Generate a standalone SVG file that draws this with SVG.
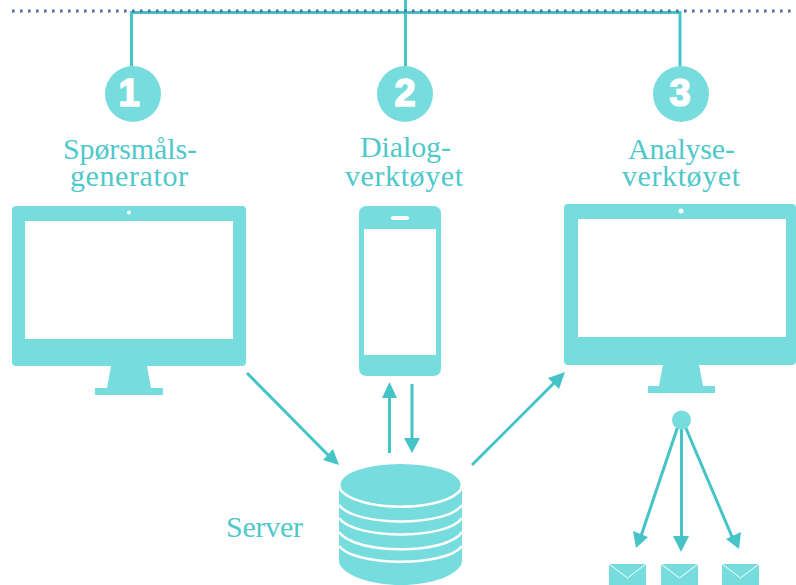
<svg xmlns="http://www.w3.org/2000/svg" width="796" height="585" viewBox="0 0 796 585">
<style>
.f{fill:#76dcdd}
.l{fill:#4fc8ca;font-family:"Liberation Serif",serif;font-size:30px;text-anchor:middle}
.n{fill:#fff;stroke:#fff;stroke-width:1.6;font-family:"Liberation Sans",sans-serif;font-weight:bold;font-size:38px;text-anchor:middle}
.c{fill:none;stroke:#45c4c8;stroke-width:3}
.a{fill:#45c4c8}
.e{fill:none;stroke:#fff;stroke-width:1}
.b{fill:none;stroke:#fff;stroke-width:2.5}
</style>
<rect width="796" height="585" fill="#fff"/>
<g id="connectors">
<path class="c" d="M131.500 66V12.500H680V66M405.500 0V66"/>
<line x1="12" y1="11" x2="796" y2="11" stroke="#4f6fa8" stroke-width="3" stroke-dasharray="2.6 5.4"/>
<path class="c" d="M247 373L330 457"/><path class="a" d="M339 465L323 460L333 449Z"/>
<path class="c" d="M389.500 453V394"/><path class="a" d="M389.500 382L397 398H382Z"/>
<path class="c" d="M412 384V440"/><path class="a" d="M412 453L404 438H420Z"/>
<path class="c" d="M472 465L556 381"/><path class="a" d="M565 372L559 389L548 378Z"/>
<path class="c" d="M678 426L640 539"/><path class="a" d="M636 548L633 531L648 537Z"/>
<path class="c" d="M681.500 426V538"/><path class="a" d="M681 552L673 536H689Z"/>
<path class="c" d="M685 426L733 539"/><path class="a" d="M739 549L726 539L741 532Z"/>
</g>
<g id="node1">
<circle class="f" cx="133" cy="94" r="28"/><text class="n" x="129" y="105.500">1</text>
<text class="l" x="130" y="159" textLength="134">Spørsmåls-</text><text class="l" x="129" y="186" textLength="118">generator</text>
<path class="f" fill-rule="evenodd" d="M16 206H242Q246 206 246 210V362Q246 366 242 366H147L151 388H163V395H95V388H107L111 366H16Q12 366 12 362V210Q12 206 16 206ZM25 221V339H233V221Z"/>
<circle cx="129" cy="212.500" r="2" fill="#fff"/>
</g>
<g id="node2">
<circle class="f" cx="405" cy="94" r="28"/><text class="n" x="405" y="105.500">2</text>
<text class="l" x="405.500" y="157" textLength="91">Dialog-</text><text class="l" x="404" y="186" textLength="118">verktøyet</text>
<path class="f" fill-rule="evenodd" d="M367 206H433Q441 206 441 214V368Q441 376 433 376H367Q359 376 359 368V214Q359 206 367 206ZM364 229V355H436V229Z"/>
<rect x="391" y="216" width="18" height="4" rx="2" fill="#fff"/>
</g>
<g id="node3">
<circle class="f" cx="681" cy="94" r="28"/><text class="n" x="680" y="105.500">3</text>
<text class="l" x="681.500" y="159" textLength="107">Analyse-</text><text class="l" x="681" y="186" textLength="118">verktøyet</text>
<path class="f" fill-rule="evenodd" d="M568 204H792Q796 204 796 208V361Q796 365 792 365H699L703 386H715V393H648V386H659L663 365H568Q564 365 564 361V208Q564 204 568 204ZM578 219V337H786V219Z"/>
<circle cx="681" cy="211" r="2.500" fill="#fff"/>
</g>
<g id="server">
<text class="l" x="264.500" y="537" textLength="77">Server</text>
<path class="f" d="M339 488V562C342 575 370 585 401 585C432 585 459 575 462 562V488Z"/>
<path class="b" d="M339 488C355 513 447 513 462 488M339 505C355 527 447 527 462 505M339 518C355 540 447 540 462 518M339 532C355 555 447 555 462 532M339 546C355 567 447 567 462 546"/>
<ellipse class="f" cx="400.500" cy="484.500" rx="60" ry="20.500"/>
</g>
<g id="hub"><circle class="f" cx="681.500" cy="420" r="9.500"/></g>
<g id="mail1"><rect class="f" x="609" y="564" width="37" height="21"/><path class="e" d="M609 564L627.500 578L646 564"/></g>
<g id="mail2"><rect class="f" x="661" y="564" width="37" height="21"/><path class="e" d="M661 564L679.500 578L698 564"/></g>
<g id="mail3"><rect class="f" x="722" y="564" width="37" height="21"/><path class="e" d="M722 564L740.500 578L759 564"/></g>
</svg>
